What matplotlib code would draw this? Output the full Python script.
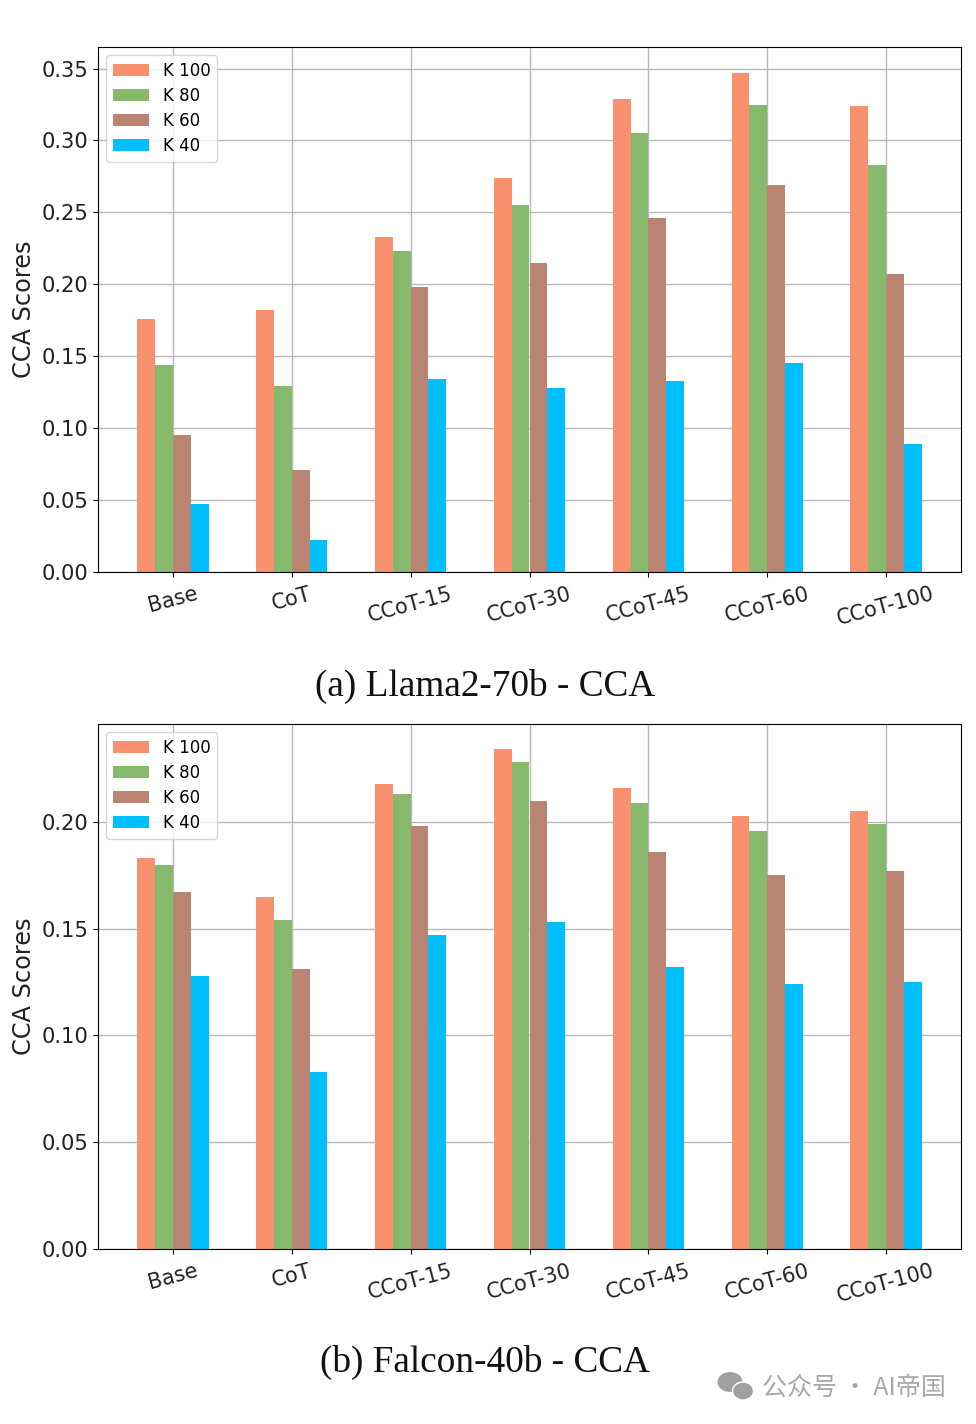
import numpy as np
import matplotlib
matplotlib.use('Agg')
import matplotlib.pyplot as plt
from matplotlib.patches import Ellipse

W = 976
H = 1424

labels = ['Base', 'CoT', 'CCoT-15', 'CCoT-30', 'CCoT-45', 'CCoT-60', 'CCoT-100']
series_names = ['K 100', 'K 80', 'K 60', 'K 40']
colors = ['#F9916F', '#86B96B', '#B98471', '#00BFFF']

llama_k100 = [0.176, 0.182, 0.233, 0.274, 0.329, 0.347, 0.324]
llama_k80 = [0.144, 0.129, 0.223, 0.255, 0.305, 0.325, 0.283]
llama_k60 = [0.095, 0.071, 0.198, 0.215, 0.246, 0.269, 0.207]
llama_k40 = [0.047, 0.022, 0.134, 0.128, 0.133, 0.145, 0.089]

falcon_k100 = [0.183, 0.165, 0.218, 0.234, 0.216, 0.203, 0.205]
falcon_k80 = [0.180, 0.154, 0.213, 0.228, 0.209, 0.196, 0.199]
falcon_k60 = [0.167, 0.131, 0.198, 0.210, 0.186, 0.175, 0.177]
falcon_k40 = [0.128, 0.083, 0.147, 0.153, 0.132, 0.124, 0.125]


def draw(box, groups, ymax, ticks, caption, cap_y):
    left, top, right, bottom = box
    ax = fig.add_axes([left/W, 1-bottom/H, (right-left)/W, (bottom-top)/H])
    x = np.arange(len(labels))
    w = 0.15
    ax.set_axisbelow(True)
    ax.grid(True, color='#b8b8b8', linewidth=1.0)
    for i, vals in enumerate(groups):
        ax.bar(x+(i-1.5)*w, vals, w, color=colors[i], label=series_names[i])
    ax.set_xlim(-0.63, 6.63)
    ax.set_ylim(0, ymax)
    ax.set_xticks(x)
    ax.set_xticklabels(labels, rotation=15, fontsize=15, color='#222222')
    ax.tick_params(axis='x', pad=5)
    ax.set_yticks(ticks)
    ax.set_yticklabels(['%.2f' % t for t in ticks], fontsize=15.2, color='#222222')
    ax.set_ylabel('CCA Scores', fontsize=17.3, color='#222222', labelpad=4)
    ax.legend(loc='upper left', fontsize=12, handlelength=2.15, labelspacing=0.42,
              borderaxespad=0.5, handletextpad=0.85)
    fig.text(485/W, 1-cap_y/H, caption, ha='center', va='center',
             fontsize=26.8, family='Liberation Serif', color='#111111')


fig = plt.figure(figsize=(W/100, H/100), dpi=100)
draw((98, 47, 961, 572), [llama_k100, llama_k80, llama_k60, llama_k40], 0.365,
     [0, 0.05, 0.10, 0.15, 0.20, 0.25, 0.30, 0.35], '(a) Llama2-70b - CCA', 686)
draw((98, 724, 961, 1249), [falcon_k100, falcon_k80, falcon_k60, falcon_k40], 0.2459,
     [0, 0.05, 0.10, 0.15, 0.20], '(b) Falcon-40b - CCA', 1362)

# watermark
fig.text(762/W, 1-1388/H, '公众号 · AI帝国', ha='left', va='center', fontsize=18,
         color='#a8a8a8', family=['Noto Sans CJK SC', 'DejaVu Sans'])
fig.add_artist(Ellipse((730/W, 1-1382/H), 25/W, 20/H, fc='#a0a0a0', ec='none', transform=fig.transFigure))
fig.add_artist(Ellipse((743/W, 1-1391/H), 21/W, 18/H, fc='#a0a0a0', ec='white', transform=fig.transFigure))

fig.savefig('out.png', dpi=100)
